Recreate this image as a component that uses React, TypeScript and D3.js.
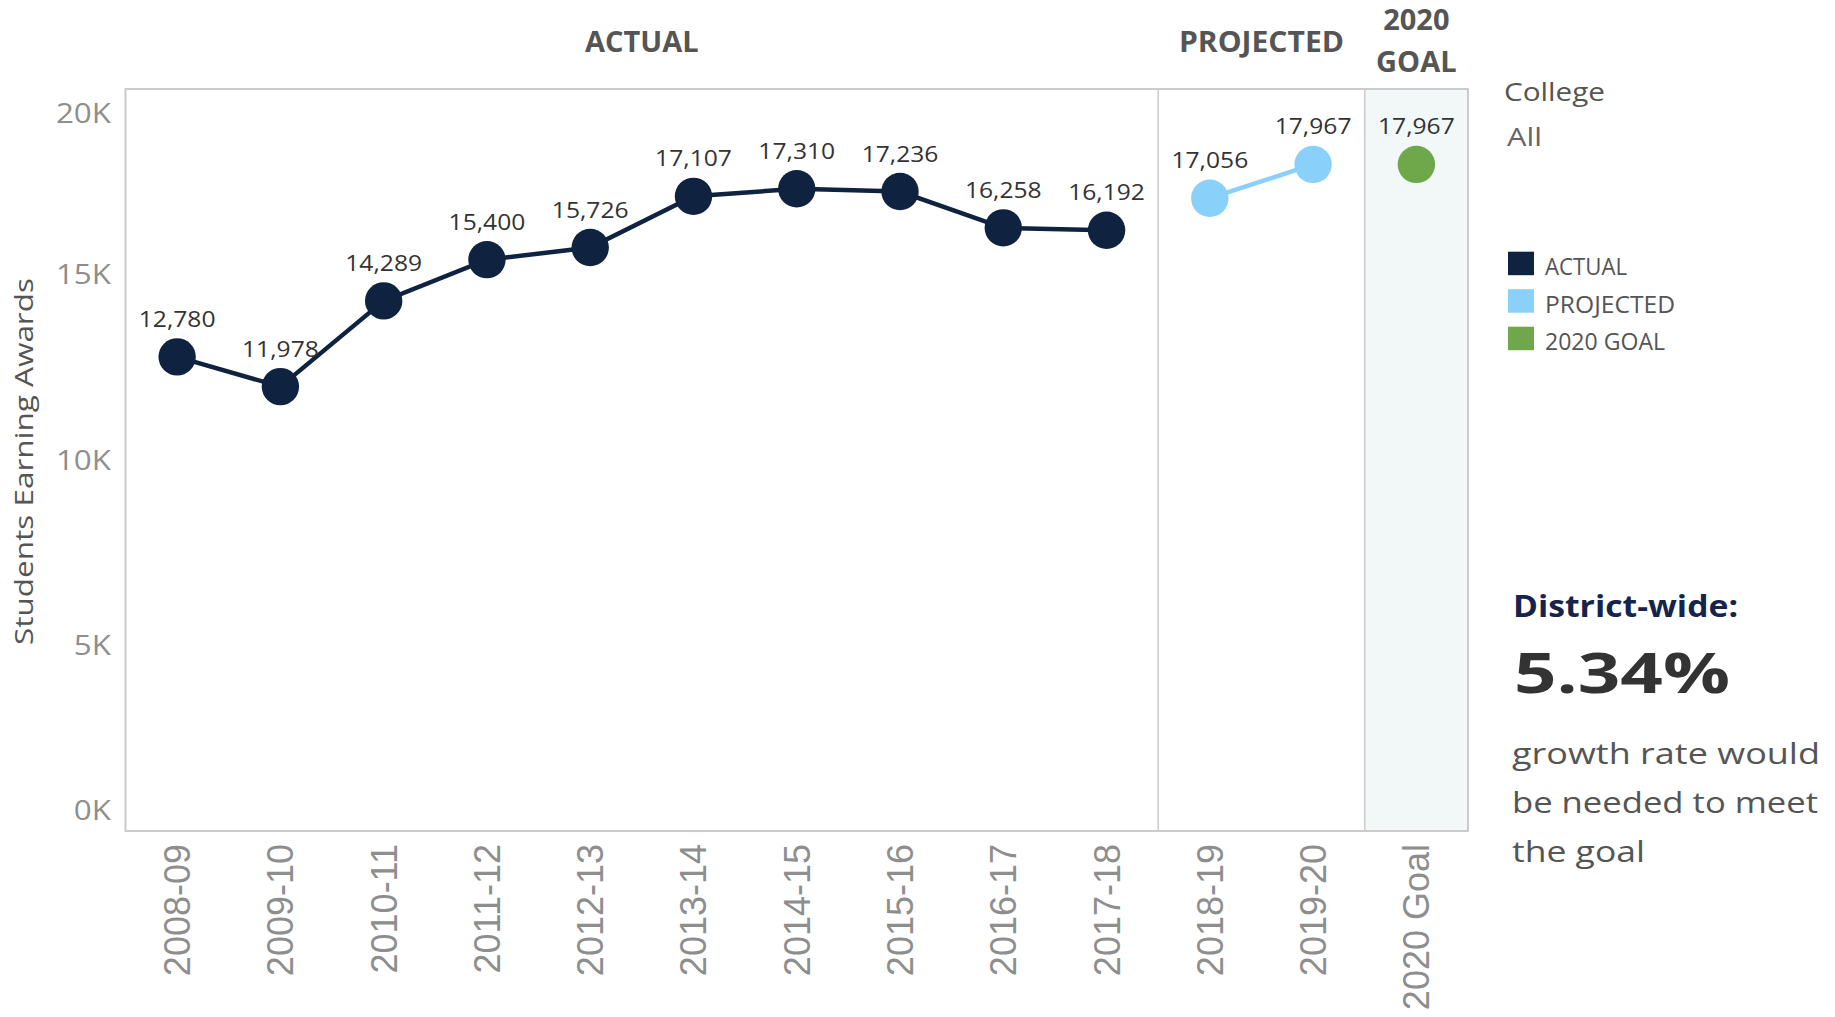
import React from "react";
import * as d3 from "d3";

// seasons & values
const actualSeasons = ["2008-09", "2009-10", "2010-11", "2011-12", "2012-13", "2013-14", "2014-15", "2015-16", "2016-17", "2017-18"];
const actualValues = [12780, 11978, 14289, 15400, 15726, 17107, 17310, 17236, 16258, 16192];
const projectedSeasons = ["2018-19", "2019-20"];
const projectedValues = [17056, 17967];
const goalSeasons = ["2020 Goal"];
const goalValues = [17967];
const yTicks = [0, 5000, 10000, 15000, 20000];
const legendItems = ["ACTUAL", "PROJECTED", "2020 GOAL"];
const growthLines = ["growth rate would", "be needed to meet", "the goal"];

const W = 1835, H = 1017;
const left = 125.5, right = 1468, top = 89, bottom = 831;

const NAVY = "#0f2240";
const BLUE = "#89d0fb";
const GREEN = "#6fa84b";
const FONT = "'Open Sans', sans-serif";

export default function App() {
  const allSeasons = [...actualSeasons, ...projectedSeasons, ...goalSeasons];
  const x = d3.scaleBand().domain(allSeasons).range([left, right]).padding(0);
  const y = d3.scaleLinear().domain([0, 20000]).range([bottom, top]);
  const cx = (s: string) => x(s)! + x.bandwidth() / 2;
  const fmt = d3.format(",");
  const tickFmt = (v: number) => `${v / 1000}K`;

  const line = d3.line<[string, number]>().x(d => cx(d[0])).y(d => y(d[1]));
  const actualPts = actualSeasons.map((s, i) => [s, actualValues[i]] as [string, number]);
  const projPts = projectedSeasons.map((s, i) => [s, projectedValues[i]] as [string, number]);
  const goalPts = goalSeasons.map((s, i) => [s, goalValues[i]] as [string, number]);

  const projX0 = x(projectedSeasons[0])!;
  const goalX0 = x(goalSeasons[0])!;

  const dots = (pts: [string, number][], color: string) =>
    pts.map(([s, v]) => (
      <g key={s}>
        <circle cx={cx(s)} cy={y(v)} r={18.7} fill={color} />
        <g transform={`translate(${cx(s)},${y(v) - 30}) scale(1.12,1)`}>
          <text textAnchor="middle" fontSize={22} fill="#333" fontFamily={FONT}>{fmt(v)}</text>
        </g>
      </g>
    ));

  return (
    <svg width={W} height={H} style={{ position: "absolute", left: 0, top: 0, background: "#fff" }} fontFamily={FONT}>
      {/* goal pane shading */}
      <rect x={goalX0} y={top} width={right - goalX0} height={bottom - top} fill="#f2f7f7" />
      {/* pane frame */}
      <rect x={left} y={top} width={right - left} height={bottom - top} fill="none" stroke="#cbcbcb" strokeWidth={2} />
      <line x1={projX0} x2={projX0} y1={top} y2={bottom} stroke="#cbcbcb" strokeWidth={1.5} />
      <line x1={goalX0} x2={goalX0} y1={top} y2={bottom} stroke="#cbcbcb" strokeWidth={1.5} />

      {/* section headers */}
      <g fontWeight="bold" fontSize={29} fill="#555" textAnchor="middle">
        <text x={(left + projX0) / 2} y={52}>ACTUAL</text>
        <text x={(projX0 + goalX0) / 2} y={52} textLength={165} lengthAdjust="spacingAndGlyphs">PROJECTED</text>
        <text x={(goalX0 + right) / 2} y={30}>2020</text>
        <text x={(goalX0 + right) / 2} y={72}>GOAL</text>
      </g>

      {/* y axis */}
      {yTicks.map(t => {
        const ty = Math.min(Math.max(y(t), top + 24), bottom - 21);
        return (
          <g key={t} transform={`translate(111,${ty}) scale(1.12,1)`}>
            <text textAnchor="end" dy="0.35em" fontSize={28} fill="#8e8e8e">{tickFmt(t)}</text>
          </g>
        );
      })}
      <text transform={`translate(32.5,461.5) rotate(-90)`} textAnchor="middle" fontSize={26} fill="#555"
        textLength={367} lengthAdjust="spacingAndGlyphs">Students Earning Awards</text>

      {/* x axis */}
      {allSeasons.map(s => (
        <text key={s} transform={`translate(${cx(s) + 13},844) rotate(-90)`} textAnchor="end"
          fontFamily="'Liberation Sans', Arial, sans-serif" fontSize={36} fill="#8e8e8e">{s}</text>
      ))}

      {/* series */}
      <path d={line(actualPts)!} fill="none" stroke={NAVY} strokeWidth={4.5} />
      <path d={line(projPts)!} fill="none" stroke={BLUE} strokeWidth={4.5} />
      {dots(actualPts, NAVY)}
      {dots(projPts, BLUE)}
      {dots(goalPts, GREEN)}

      {/* filter card */}
      <text x={1504} y={101} fontSize={26} fill="#555" textLength={101} lengthAdjust="spacingAndGlyphs">College</text>
      <text x={1507} y={146} fontSize={26} fill="#666" textLength={35} lengthAdjust="spacingAndGlyphs">All</text>

      {/* legend */}
      {legendItems.map((name, i) => {
        const ly = 251.7 + i * 37.5;
        const col = [NAVY, BLUE, GREEN][i];
        const tl = [82, 130, 120][i];
        return (
          <g key={name}>
            <rect x={1508} y={ly} width={26} height={23.5} fill={col} />
            <text x={1545} y={ly + 23.3} fontSize={23} fill="#555" textLength={tl} lengthAdjust="spacingAndGlyphs">{name}</text>
          </g>
        );
      })}

      {/* growth callout */}
      <text x={1513} y={616.5} fontSize={31} fontWeight="bold" fill="#15244d" textLength={225} lengthAdjust="spacingAndGlyphs">District-wide:</text>
      <text x={1514} y={693} fontSize={56} fontWeight="bold" fill="#333" textLength={216} lengthAdjust="spacingAndGlyphs">5.34%</text>
      {growthLines.map((t, i) => (
        <text key={t} x={1512} y={764 + i * 49} fontSize={29} fill="#555"
          textLength={[308, 306, 133][i]} lengthAdjust="spacingAndGlyphs">{t}</text>
      ))}
    </svg>
  );
}
